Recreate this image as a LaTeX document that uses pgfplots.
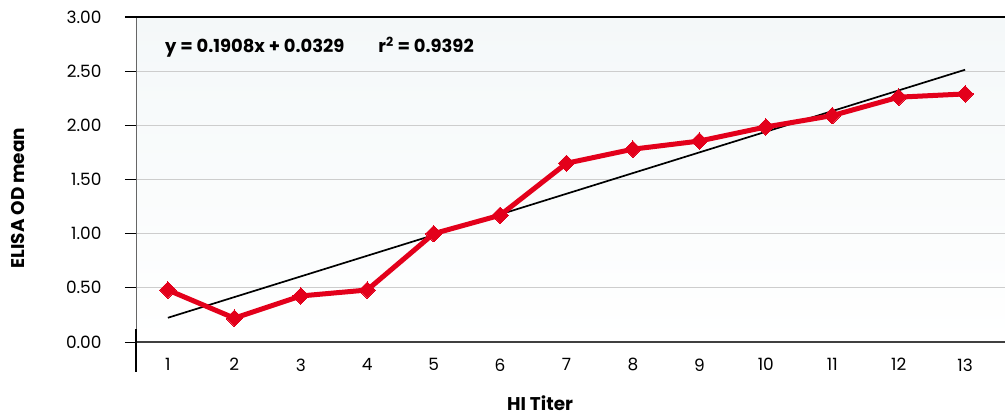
\documentclass[border=0pt]{standalone}
\usepackage{fontspec}
\setmainfont{Poppins}
\usepackage{pgfplots}
\pgfplotsset{compat=1.18}
\definecolor{datared}{HTML}{E3001B}
\definecolor{bgtop}{HTML}{F4F8F9}
\definecolor{gridgray}{HTML}{CDCDCD}
\begin{document}
\begin{tikzpicture}
\begin{axis}[
  scale only axis, width=869bp, height=325bp,
  xmin=0.52, xmax=13.6, ymin=0, ymax=3,
  axis x line=bottom, axis y line=left,
  axis line style={-},
  x axis line style={draw=black!75, line width=1.3bp},
  y axis line style={draw=black!60, line width=0.8bp},
  axis background/.style={shade, top color=bgtop, bottom color=white},
  ytick={0,0.5,1,1.5,2,2.5,3},
  xtick={1,2,3,4,5,6,7,8,9,10,11,12,13},
  major x tick style={draw=none},
  tick align=outside,
  major tick length=11bp,
  y tick style={black, line width=0.8bp},
  ymajorgrids, grid style={gridgray, line width=0.8bp},
  tick label style={font=\fontsize{17}{20}\selectfont, text=black},
  yticklabel style={xshift=-20bp, /pgf/number format/.cd, fixed, fixed zerofill, precision=2, assume math mode=true},
  xticklabel style={/pgf/number format/assume math mode=true, yshift=-2bp},
  every axis y label/.style={at={([xshift=-118bp]rel axis cs:0,0.443)}, rotate=90, anchor=center, inner sep=0pt, font=\fontsize{18.5}{20}\selectfont\bfseries},
  every axis x label/.style={at={([yshift=-61bp]rel axis cs:0.465,0)}, anchor=center, inner sep=0pt, font=\fontsize{18.5}{20}\selectfont\bfseries},
  ylabel={ELISA OD mean},
  xlabel={HI Titer},
  clip=false,
]
\addplot[black, line width=1.7bp] coordinates {(1,0.2237) (13,2.5133)};
\addplot[datared, line width=5bp, mark=square*, mark size=5.8bp, mark options={rotate=45, line width=0pt}] coordinates {
(1,0.48) (2,0.22) (3,0.425) (4,0.48) (5,1.00) (6,1.17) (7,1.65) (8,1.78) (9,1.855) (10,1.985) (11,2.09) (12,2.26) (13,2.29)};
\draw[black, line width=1.4bp] ([xshift=-11bp]rel axis cs:0,1) -- (rel axis cs:1,1);
\draw[black, line width=2.2bp] ([yshift=13bp]rel axis cs:0,0) -- ([yshift=-30bp]rel axis cs:0,0);
\node[anchor=west, inner sep=0pt, font=\fontsize{18}{20}\selectfont\bfseries] at (rel axis cs:0.0334,0.908) {y = 0.1908x + 0.0329\hspace{34bp}r\textsuperscript{2} = 0.9392};
\coordinate (tl) at ([xshift=-136bp,yshift=17bp]rel axis cs:0,1);
\coordinate (br) at ([yshift=-73bp]rel axis cs:1,0);
\end{axis}
\pgfresetboundingbox
\path[use as bounding box] (tl) rectangle (br);
\end{tikzpicture}
\end{document}
